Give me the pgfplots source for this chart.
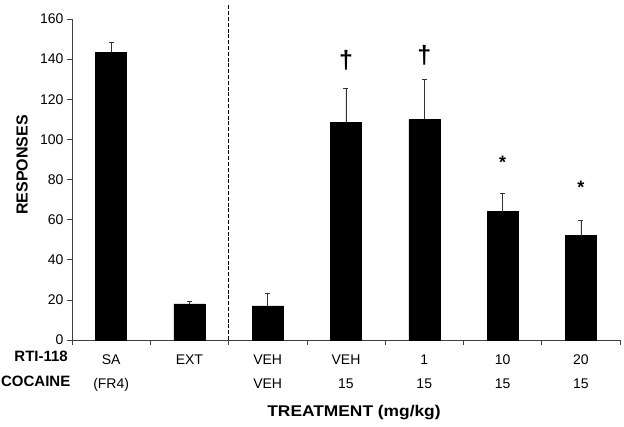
\documentclass[border=0pt]{standalone}
\usepackage{pgfplots}
\pgfplotsset{compat=1.18}
\usepackage{fontspec}
\setmainfont{Liberation Sans}

\pgfplotstableread{
x y e
0 143.5 5
1 18 1.3
2 17 6.5
3 108.5 17
4 110 20
5 64 9
6 52 7.8
}\datatable

\begin{document}
\begin{tikzpicture}
\path[use as bounding box] (-72bp,-87bp) rectangle (552bp,340bp);
\begin{axis}[
  at={(0,0)}, anchor=south west,
  scale only axis, width=548bp, height=321bp,
  xmin=-0.5, xmax=6.5, ymin=0, ymax=160,
  clip=false,
  axis x line*=bottom, axis y line*=left,
  axis line style={line width=0.7bp, black!75},
  every tick/.style={line width=0.7bp, black!75},
  tick align=outside,
  major tick length=5bp, minor tick length=5bp,
  ytick={0,20,...,160},
  xtick={0,...,6},
  minor xtick={-0.5,0.5,1.5,2.5,3.5,4.5,5.5,6.5},
  major x tick style={draw=none},
  xticklabels={{SA\\[7bp](FR4)},{EXT},{VEH\\[7bp]VEH},{VEH\\[7bp]15},{1\\[7bp]15},{10\\[7bp]15},{20\\[7bp]15}},
  xticklabel style={align=center, anchor=north, inner sep=0pt, yshift=-10bp,
    font=\fontsize{14bp}{17bp}\selectfont},
  yticklabel style={font=\fontsize{14bp}{17bp}\selectfont},
  /pgf/number format/assume math mode=true,
  ylabel={\textbf{RESPONSES}},
  ylabel style={at={(axis description cs:-0.0912,0.545)}, anchor=center,
    font=\fontsize{16bp}{19bp}\selectfont},
  xlabel={\textbf{TREATMENT (mg/kg)}},
  xlabel style={at={(axis description cs:0.5146,-0.2274)}, anchor=center, xscale=1.12,
    font=\fontsize{15.5bp}{18bp}\selectfont},
]
\addplot[ybar, bar width=31bp, fill=black, draw=black,
  error bars/.cd, y dir=plus, y explicit,
  error bar style={line width=0.6bp, black!80},
  error mark options={rotate=90, mark size=2.5bp, line width=0.6bp, black!80}]
  table[x=x, y=y, y error=e] {\datatable};
\addplot[black, line width=1.2bp, dash pattern=on 4bp off 1.8bp]
  coordinates {(1.5,0) (1.5,167)};
\addplot[draw=none, nodes near coords, point meta=explicit symbolic,
  every node near coord/.append style={anchor=center, inner sep=0pt,
    font=\bfseries\fontsize{25bp}{27bp}\selectfont}]
  coordinates {(3,139.6)[†] (4,142)[†]};
\addplot[draw=none, nodes near coords, point meta=explicit symbolic,
  every node near coord/.append style={anchor=center, inner sep=0pt,
    font=\bfseries\fontsize{18bp}{20bp}\selectfont}]
  coordinates {(5,88.7)[*] (6,76.3)[*]};
\node[anchor=east, inner sep=0pt, font=\bfseries\fontsize{15bp}{18bp}\selectfont]
  at (axis description cs:-0.0073,-0.0498) {RTI-118};
\node[anchor=east, inner sep=0pt, font=\bfseries\fontsize{15bp}{18bp}\selectfont]
  at (axis description cs:-0.0027,-0.129) {COCAINE};
\end{axis}
\end{tikzpicture}
\end{document}
